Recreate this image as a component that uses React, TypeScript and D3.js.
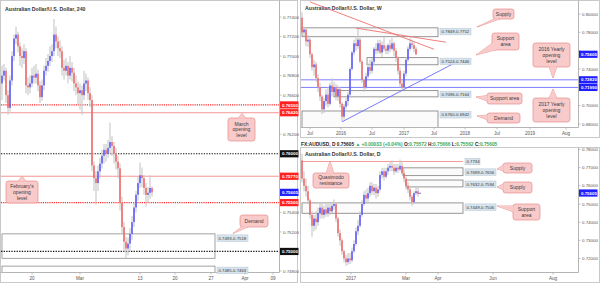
import React from "react";
import * as d3 from "d3";

// ---------------- 4H panel (left) ----------------
const h4FirstOpen = 0.7672;
const h4Close = [0.7680,0.7685,0.7660,0.7647,0.7675,0.7700,0.7718,0.7722,0.7710,0.7700,0.7698,0.7705,0.7670,0.7668,0.7672,0.7680,0.7678,0.7682,0.7670,0.7658,0.7670,0.7685,0.7690,0.7695,0.7700,0.7705,0.7722,0.7715,0.7708,0.7705,0.7688,0.7685,0.7690,0.7680,0.7688,0.7683,0.7672,0.7668,0.7662,0.7665,0.7660,0.7672,0.7675,0.7662,0.7655,0.7588,0.7575,0.7570,0.7582,0.7590,0.7598,0.7604,0.7600,0.7606,0.7612,0.7608,0.7600,0.7592,0.7585,0.7550,0.7525,0.7510,0.7503,0.7508,0.7518,0.7530,0.7545,0.7558,0.7570,0.7578,0.7575,0.7565,0.7558,0.7560,0.7565,0.75605];
const h4High = [0.7690,0.7692,0.7688,0.7665,0.7680,0.7705,0.7722,0.7730,0.7725,0.7714,0.7708,0.7712,0.7708,0.7678,0.7680,0.7688,0.7690,0.7692,0.7686,0.7674,0.7676,0.7690,0.7698,0.7702,0.7710,0.7712,0.7738,0.7730,0.7720,0.7716,0.7710,0.7696,0.7698,0.7694,0.7700,0.7694,0.7688,0.7680,0.7674,0.7672,0.7670,0.7685,0.7682,0.7678,0.7668,0.7660,0.7592,0.7582,0.7588,0.7596,0.7604,0.7610,0.7610,0.7614,0.7632,0.7618,0.7612,0.7606,0.7598,0.7590,0.7556,0.7530,0.7515,0.7514,0.7524,0.7536,0.7550,0.7562,0.7576,0.7591,0.7586,0.7578,0.7570,0.7566,0.7578,0.75666];
const h4Low = [0.7655,0.7675,0.7652,0.7640,0.7643,0.7670,0.7695,0.7712,0.7704,0.7690,0.7688,0.7692,0.7662,0.7660,0.7662,0.7668,0.7672,0.7672,0.7664,0.7652,0.7654,0.7665,0.7680,0.7684,0.7690,0.7694,0.7700,0.7708,0.7700,0.7698,0.7680,0.7676,0.7680,0.7672,0.7676,0.7674,0.7664,0.7660,0.7650,0.7645,0.7640,0.7655,0.7664,0.7655,0.7648,0.7582,0.7562,0.7548,0.7562,0.7575,0.7585,0.7590,0.7592,0.7596,0.7600,0.7598,0.7590,0.7584,0.7575,0.7542,0.7518,0.7500,0.7493,0.7496,0.7500,0.7512,0.7525,0.7540,0.7552,0.7565,0.7566,0.7558,0.7546,0.7550,0.7554,0.75562];
const h4XLabels = ["20", "Mar", "13", "20", "27", "Apr", "09"];
const h4XPos = [15, 39, 69, 86.5, 104.5, 121.5, 135.5];
const h4YTicks = [0.774, 0.772, 0.770, 0.768, 0.766, 0.764, 0.762, 0.760, 0.758, 0.756, 0.754, 0.752, 0.750, 0.748];
const h4LevelPrices = [0.765, 0.7642, 0.760, 0.7577, 0.755, 0.750];
const h4LevelKinds = ["reddot", "redline", "blackdot", "redline", "reddot", "blackdot"];
const h4Zones = [[0.7518, 0.7493], [0.7485, 0.7463]];
const h4ZoneLabels = ["0.7493-0.7518", "0.7485-0.7463"];
const h4ZoneEnd = 106.5;
const lastPrice = 0.75605;

// ---------------- Weekly panel (top right) ----------------
const wOpen = [0.7960,0.7800,0.7830,0.7700,0.7720,0.7560,0.7420,0.7450,0.7300,0.7200,0.7100,0.6960,0.7050,0.7120,0.7020,0.7220,0.7150,0.7200,0.7100,0.7180,0.7020,0.6880,0.6990,0.7050,0.7120,0.7400,0.7580,0.7680,0.7650,0.7720,0.7480,0.7280,0.7200,0.7320,0.7420,0.7380,0.7480,0.7620,0.7600,0.7680,0.7580,0.7660,0.7620,0.7600,0.7660,0.7620,0.7680,0.7600,0.7520,0.7380,0.7240,0.7200,0.7350,0.7500,0.7620,0.7680,0.7660,0.7620];
const wClose = [0.7800,0.7830,0.7700,0.7720,0.7560,0.7420,0.7450,0.7300,0.7200,0.7100,0.6960,0.7050,0.7120,0.7020,0.7220,0.7150,0.7200,0.7100,0.7180,0.7020,0.6880,0.6990,0.7050,0.7120,0.7400,0.7580,0.7680,0.7650,0.7720,0.7480,0.7280,0.7200,0.7320,0.7420,0.7380,0.7480,0.7620,0.7600,0.7680,0.7580,0.7660,0.7620,0.7600,0.7660,0.7620,0.7680,0.7600,0.7520,0.7380,0.7240,0.7200,0.7350,0.7500,0.7620,0.7680,0.7660,0.7620,0.75605];
const wHigh = [0.8020,0.7860,0.7850,0.7770,0.7740,0.7580,0.7500,0.7480,0.7340,0.7250,0.7120,0.7080,0.7180,0.7200,0.7250,0.7300,0.7260,0.7240,0.7220,0.7200,0.7040,0.7020,0.7080,0.7150,0.7420,0.7600,0.7720,0.7760,0.7840,0.7740,0.7500,0.7300,0.7360,0.7460,0.7500,0.7520,0.7640,0.7680,0.7720,0.7720,0.7700,0.7750,0.7660,0.7680,0.7720,0.7740,0.7700,0.7630,0.7540,0.7420,0.7280,0.7380,0.7530,0.7650,0.7740,0.7720,0.7700,0.7640];
const wLow = [0.7760,0.7760,0.7650,0.7640,0.7520,0.7380,0.7330,0.7260,0.7150,0.7050,0.6910,0.6920,0.7000,0.6980,0.7000,0.7100,0.7120,0.7060,0.7050,0.6980,0.6830,0.6850,0.6960,0.7000,0.7100,0.7380,0.7550,0.7600,0.7620,0.7460,0.7250,0.7150,0.7180,0.7300,0.7340,0.7350,0.7440,0.7560,0.7570,0.7560,0.7530,0.7590,0.7560,0.7560,0.7580,0.7600,0.7540,0.7480,0.7340,0.7200,0.7160,0.7180,0.7320,0.7480,0.7600,0.7620,0.7580,0.7550];
const wXLabels = ["Jul", "2016", "Jul", "2017", "Jul", "2018", "Jul", "2019", "Aug"];
const wXPos = [4, 19.5, 35, 51, 66, 81.5, 97.5, 114, 132];
const wYTicks = [0.80, 0.78, 0.76, 0.74, 0.72, 0.70, 0.68];
const wYearly = [0.7282, 0.7199];
const wZones = [[0.7849, 0.7752, 0], [0.7524, 0.7446, 32.5], [0.7164, 0.7096, 16], [0.6942, 0.6760, 0]];
const wZoneLabels = ["0.7849-0.7752", "0.7524-0.7446", "0.7096-0.7164", "0.6760-0.6942"];
const wZoneEnd = 68;
const wRedTrend1 = [[4, 0.8132], [66, 0.7615]];
const wRedTrend2 = [[27, 0.7846], [72, 0.7692]];
const wBlueTrend = [[20, 0.6824], [76, 0.7462]];

// ---------------- Daily panel (bottom right) ----------------
const dOpen = [0.7740,0.7640,0.7600,0.7570,0.7520,0.7440,0.7380,0.7420,0.7400,0.7450,0.7480,0.7440,0.7470,0.7450,0.7480,0.7460,0.7490,0.7500,0.7420,0.7340,0.7300,0.7240,0.7200,0.7180,0.7200,0.7190,0.7240,0.7280,0.7350,0.7380,0.7440,0.7500,0.7550,0.7530,0.7560,0.7600,0.7570,0.7590,0.7560,0.7580,0.7660,0.7680,0.7650,0.7680,0.7700,0.7710,0.7700,0.7680,0.7700,0.7690,0.7710,0.7670,0.7640,0.7600,0.7580,0.7540,0.7510,0.7560,0.7570,0.75572];
const dClose = [0.7640,0.7600,0.7570,0.7520,0.7440,0.7380,0.7420,0.7400,0.7450,0.7480,0.7440,0.7470,0.7450,0.7480,0.7460,0.7490,0.7500,0.7420,0.7340,0.7300,0.7240,0.7200,0.7180,0.7200,0.7190,0.7240,0.7280,0.7350,0.7380,0.7440,0.7500,0.7550,0.7530,0.7560,0.7600,0.7570,0.7590,0.7560,0.7580,0.7660,0.7680,0.7650,0.7680,0.7700,0.7710,0.7700,0.7680,0.7700,0.7690,0.7710,0.7670,0.7640,0.7600,0.7580,0.7540,0.7510,0.7560,0.7570,0.7555,0.75605];
const dHigh = [0.7778,0.7680,0.7640,0.7600,0.7530,0.7460,0.7440,0.7460,0.7480,0.7500,0.7500,0.7490,0.7500,0.7500,0.7500,0.7510,0.7525,0.7510,0.7430,0.7360,0.7310,0.7250,0.7220,0.7230,0.7230,0.7260,0.7300,0.7370,0.7410,0.7460,0.7520,0.7570,0.7580,0.7590,0.7620,0.7620,0.7610,0.7610,0.7600,0.7680,0.7700,0.7700,0.7700,0.7720,0.7730,0.7740,0.7720,0.7720,0.7720,0.7745,0.7730,0.7690,0.7650,0.7620,0.7600,0.7550,0.7570,0.7590,0.7590,0.75666];
const dLow = [0.7620,0.7570,0.7540,0.7500,0.7420,0.7320,0.7350,0.7360,0.7380,0.7420,0.7420,0.7420,0.7430,0.7430,0.7440,0.7450,0.7470,0.7400,0.7320,0.7270,0.7220,0.7180,0.7160,0.7165,0.7170,0.7180,0.7230,0.7270,0.7330,0.7370,0.7430,0.7490,0.7500,0.7510,0.7540,0.7550,0.7550,0.7530,0.7540,0.7570,0.7640,0.7630,0.7640,0.7660,0.7680,0.7680,0.7660,0.7670,0.7670,0.7680,0.7660,0.7620,0.7580,0.7560,0.7520,0.7490,0.7500,0.7550,0.7540,0.75562];
const dXLabels = ["2017", "Mar", "Apr", "Jun", "Aug"];
const dXPos = [24.5, 52, 68, 95.5, 125.5];
const dYTicks = [0.78, 0.77, 0.76, 0.75, 0.74, 0.73, 0.72];
const dQM = 0.7734;
const dZones = [[0.7699, 0.7656, 50.5], [0.7632, 0.7594, 52], [0.7506, 0.7449, 0]];
const dZoneLabels = ["0.7699-0.7656", "0.7632-0.7594", "0.7449-0.7506"];
const dZoneEnd = 80.5;

const FONT = "'Liberation Sans', Arial, sans-serif";
const UP = "#4b4bff";
const DOWN = "#f25c5c";
const WICK = "#c6c6c6";
const fmt = d3.format(".5f");

type Sc = d3.ScaleLinear<number, number>;

function Candles({ o, h, l, c, x, y, bw }: { o: number[]; h: number[]; l: number[]; c: number[]; x: Sc; y: Sc; bw: number }) {
  return (
    <g>
      {c.map((_, i) => (
        <line key={"w" + i} x1={x(i)} x2={x(i)} y1={y(h[i])} y2={y(l[i])} stroke={WICK} strokeWidth={1.1} />
      ))}
      {c.map((cv, i) => {
        const up = cv >= o[i];
        const top = y(Math.max(o[i], cv));
        const hh = Math.max(0.8, Math.abs(y(o[i]) - y(cv)));
        return <rect key={"b" + i} x={x(i) - bw / 2} y={top} width={bw} height={hh} fill={up ? UP : DOWN} />;
      })}
    </g>
  );
}

function Callout({ x, y, w, h, lines, tail, fs = 5 }: { x: number; y: number; w: number; h: number; lines: string[]; tail: number[][]; fs?: number }) {
  const pts = tail.map((p) => p.join(",")).join(" ");
  const lh = fs * 1.15;
  const startY = y + h / 2 - ((lines.length - 1) * lh) / 2 + fs * 0.35;
  return (
    <g>
      <polygon points={pts} fill="#f9caca" stroke="#e58b8b" strokeWidth={0.7} />
      <rect x={x} y={y} width={w} height={h} rx={2.5} fill="#f9caca" stroke="#e58b8b" strokeWidth={0.7} />
      <polygon points={pts} fill="#f9caca" stroke="none" />
      {lines.map((t, i) => (
        <text key={i} x={x + w / 2} y={startY + i * lh} fontSize={fs} fill="#3a3a3a" textAnchor="middle" fontFamily={FONT}>
          {t}
        </text>
      ))}
    </g>
  );
}

function ZoneLabel({ x, y, text }: { x: number; y: number; text: string }) {
  return (
    <g>
      <rect x={x} y={y} width={31} height={6.5} fill="#d8e4ed" stroke="#b3c4d0" strokeWidth={0.5} />
      <text x={x + 1.5} y={y + 5} fontSize={4.3} fill="#333" fontFamily={FONT}>
        {text}
      </text>
    </g>
  );
}

function AxisTag({ x, y, text, bg }: { x: number; y: number; text: string; bg: string }) {
  return (
    <g>
      <rect x={x} y={y - 3.6} width={18.5} height={7.2} fill={bg} />
      <text x={x + 2} y={y + 1.6} fontSize={4.4} fontWeight="bold" fill="#fff" fontFamily={FONT}>
        {text}
      </text>
    </g>
  );
}

function YTicks({ ticks, y, x, tags }: { ticks: number[]; y: Sc; x: number; tags: number[] }) {
  const shown = ticks.filter((t) => tags.every((p) => Math.abs(y(t) - y(p)) > 6.5));
  return (
    <g>
      {ticks.map((t) => (
        <line key={"m" + t} x1={x} x2={x + 2} y1={y(t)} y2={y(t)} stroke="#999" strokeWidth={0.6} />
      ))}
      {shown.map((t) => (
        <text key={t} x={x + 3.5} y={y(t) + 1.6} fontSize={4.4} fill="#555" fontFamily={FONT}>
          {fmt(t)}
        </text>
      ))}
    </g>
  );
}

function XTicks({ labels, pos, x, y }: { labels: string[]; pos: number[]; x: Sc; y: number }) {
  return (
    <g>
      {labels.map((t, i) => (
        <g key={i}>
          <line x1={x(pos[i])} x2={x(pos[i])} y1={y} y2={y + 2} stroke="#999" strokeWidth={0.6} />
          <text x={x(pos[i])} y={y + 7} fontSize={4.6} fill="#555" textAnchor="middle" fontFamily={FONT}>
            {t}
          </text>
        </g>
      ))}
    </g>
  );
}

export default function App() {
  const lx = d3.scaleLinear().domain([0, 138.5]).range([2, 279]);
  const ly = d3.scaleLinear().domain([0.748, 0.774]).range([271, 17]);
  const h4Open = [h4FirstOpen, ...h4Close.slice(0, -1)];
  const wx = d3.scaleLinear().domain([0, 138]).range([302, 578]);
  const wy = d3.scaleLinear().domain([0.68, 0.8]).range([124, 14]);
  const dx = d3.scaleLinear().domain([0, 138]).range([302, 578]);
  const dy = d3.scaleLinear().domain([0.72, 0.78]).range([258.5, 149.5]);

  const levelStyle = (k: string) => {
    if (k === "reddot") return { stroke: "#ff2a2a", strokeWidth: 1.1, strokeDasharray: "1.2,1" };
    if (k === "redline") return { stroke: "#f28a8a", strokeWidth: 0.9, strokeDasharray: undefined };
    return { stroke: "#111", strokeWidth: 1.2, strokeDasharray: "1.3,1.3" };
  };
  const levelTagBg = (k: string) => (k === "blackdot" ? "#111" : "#ff2020");

  const line = d3.line<number[]>();

  return (
    <svg width={600} height={283} style={{ position: "fixed", left: 0, top: 0 }} fontFamily={FONT}>
      <defs>
        <clipPath id="clipL"><rect x={1} y={1} width={278} height={271} /></clipPath>
        <clipPath id="clipW"><rect x={301} y={1} width={277} height={126} /></clipPath>
        <clipPath id="clipD"><rect x={301} y={148} width={277} height={124} /></clipPath>
      </defs>
      <rect x={0} y={0} width={600} height={283} fill="#fff" />

      {/* ===== Left 4H panel ===== */}
      <rect x={0.5} y={0.5} width={297} height={282} fill="#fff" stroke="#c9c9c9" />
      <line x1={279.5} x2={279.5} y1={0.5} y2={272.5} stroke="#b5b5b5" />
      <line x1={0.5} x2={279.5} y1={272.5} y2={272.5} stroke="#b5b5b5" />
      <text x={5} y={11} fontSize={5.2} fill="#333" fontWeight="bold">Australian Dollar/U.S. Dollar, 240</text>
      <g clipPath="url(#clipL)">
        {h4Zones.map((z, i) => (
          <rect key={i} x={lx(0)} y={ly(z[0])} width={lx(h4ZoneEnd) - lx(0)} height={ly(z[1]) - ly(z[0])} fill="none" stroke="#8a8a8a" strokeWidth={0.8} />
        ))}
        {h4LevelPrices.map((p, i) => {
          const s = levelStyle(h4LevelKinds[i]);
          return <line key={i} x1={1} x2={279} y1={ly(p)} y2={ly(p)} {...s} />;
        })}
        <Candles o={h4Open} h={h4High} l={h4Low} c={h4Close} x={lx} y={ly} bw={1.4} />
      </g>
      {h4Zones.map((z, i) => (
        <ZoneLabel key={i} x={lx(h4ZoneEnd) + 2} y={ly(z[0]) + 1} text={h4ZoneLabels[i]} />
      ))}
      <YTicks ticks={h4YTicks} y={ly} x={279.5} tags={[...h4LevelPrices, lastPrice]} />
      {h4LevelPrices.map((p, i) => (
        <AxisTag key={i} x={280} y={ly(p)} text={fmt(p)} bg={levelTagBg(h4LevelKinds[i])} />
      ))}
      <AxisTag x={280} y={ly(lastPrice)} text={fmt(lastPrice)} bg="#1e1eff" />
      <XTicks labels={h4XLabels} pos={h4XPos} x={lx} y={272.5} />
      <Callout x={228} y={118} w={27} h={23} lines={["March", "opening", "level"]} tail={[[238, 118.5], [242, 113.5], [246, 118.5]]} />
      <Callout x={6} y={181} w={32} h={22} lines={["February's", "opening", "level"]} tail={[[18, 181.5], [22, 176], [26, 181.5]]} />
      <Callout x={240} y={215} w={28} h={12} lines={["Demand"]} tail={[[242, 226.5], [233, 233.5], [249, 226.5]]} />

      {/* ===== Weekly panel ===== */}
      <rect x={300.5} y={0.5} width={299} height={137} fill="#fff" stroke="#c9c9c9" />
      <line x1={578.5} x2={578.5} y1={0.5} y2={127.5} stroke="#b5b5b5" />
      <line x1={300.5} x2={578.5} y1={127.5} y2={127.5} stroke="#b5b5b5" />
      <text x={305} y={10} fontSize={5.2} fill="#333" fontWeight="bold">Australian Dollar/U.S. Dollar, W</text>
      <g clipPath="url(#clipW)">
        {wZones.map((z, i) => (
          <rect key={i} x={wx(z[2])} y={wy(z[0])} width={wx(wZoneEnd) - wx(z[2])} height={wy(z[1]) - wy(z[0])} fill="#fbfbfb" stroke="#7d7d7d" strokeWidth={0.8} />
        ))}
        {wYearly.map((p, i) => (
          <line key={i} x1={301} x2={578} y1={wy(p)} y2={wy(p)} stroke="#7070ff" strokeWidth={0.9} />
        ))}
        <Candles o={wOpen} h={wHigh} l={wLow} c={wClose} x={wx} y={wy} bw={1.4} />
        {[wRedTrend1, wRedTrend2].map((t, i) => (
          <path key={i} d={line(t.map((p) => [wx(p[0]), wy(p[1])])) || ""} stroke="#f07070" strokeWidth={0.9} fill="none" />
        ))}
        <path d={line(wBlueTrend.map((p) => [wx(p[0]), wy(p[1])])) || ""} stroke="#6a6aff" strokeWidth={0.9} fill="none" />
      </g>
      {wZones.map((z, i) => (
        <ZoneLabel key={i} x={wx(wZoneEnd) + 2} y={wy(z[0]) + 0.5} text={wZoneLabels[i]} />
      ))}
      <YTicks ticks={wYTicks} y={wy} x={578.5} tags={[...wYearly, lastPrice]} />
      <AxisTag x={579} y={wy(lastPrice)} text={fmt(lastPrice)} bg="#1e1eff" />
      {wYearly.map((p, i) => (
        <AxisTag key={i} x={579} y={wy(p)} text={fmt(p)} bg="#1e1eff" />
      ))}
      <XTicks labels={wXLabels} pos={wXPos} x={wx} y={127.5} />
      <Callout x={493} y={9} w={21} h={10} lines={["Supply"]} tail={[[495, 18.5], [477, 27], [501, 18.5]]} />
      <Callout x={492} y={33} w={27} h={17} lines={["Support", "area"]} tail={[[492.5, 43], [476, 55], [497, 49.5]]} />
      <Callout x={533} y={43} w={37} h={24} lines={["2016 Yearly", "opening", "level"]} tail={[[549, 66.5], [553, 78], [557, 66.5]]} />
      <Callout x={533} y={98} w={37} h={24} lines={["2017 Yearly", "opening", "level"]} tail={[[549, 98.5], [553, 89], [557, 98.5]]} />
      <Callout x={487} y={93} w={35} h={11} lines={["Support area"]} tail={[[487.5, 95.5], [476, 97], [487.5, 101]]} />
      <Callout x={487} y={113} w={33} h={10} lines={["Demand"]} tail={[[487.5, 115], [477, 116], [487.5, 120]]} />

      {/* ===== Daily panel ===== */}
      <text x={301} y={145.5} fontSize={4.8} fontWeight="bold" fill="#222">
        <tspan>FX:AUDUSD, D  </tspan>
        <tspan>0.75605 </tspan>
        <tspan fill="#3aa757">▲ +0.00033 (+0.04%)  </tspan>
        <tspan>O:</tspan><tspan fill="#3aa757">0.75572 </tspan>
        <tspan>H:</tspan><tspan fill="#3aa757">0.75666 </tspan>
        <tspan>L:</tspan><tspan fill="#3aa757">0.75562 </tspan>
        <tspan>C:</tspan><tspan fill="#3aa757">0.75605</tspan>
      </text>
      <rect x={300.5} y={147.5} width={299} height={135} fill="#fff" stroke="#c9c9c9" />
      <line x1={578.5} x2={578.5} y1={147.5} y2={272.5} stroke="#b5b5b5" />
      <line x1={300.5} x2={578.5} y1={272.5} y2={272.5} stroke="#b5b5b5" />
      <text x={305} y={156} fontSize={5.2} fill="#333" fontWeight="bold">Australian Dollar/U.S. Dollar, D</text>
      <g clipPath="url(#clipD)">
        {dZones.map((z, i) => (
          <rect key={i} x={dx(z[2])} y={dy(z[0])} width={dx(dZoneEnd) - dx(z[2])} height={dy(z[1]) - dy(z[0])} fill="#fbfbfb" stroke="#7d7d7d" strokeWidth={0.8} />
        ))}
        <line x1={301} x2={dx(dZoneEnd)} y1={dy(dQM)} y2={dy(dQM)} stroke="#f49a9a" strokeWidth={1} />
        <Candles o={dOpen} h={dHigh} l={dLow} c={dClose} x={dx} y={dy} bw={1.4} />
      </g>
      <g>
        <rect x={dx(dZoneEnd) + 2} y={dy(dQM) - 3.2} width={15} height={6.5} fill="#d8e4ed" stroke="#b3c4d0" strokeWidth={0.5} />
        <text x={dx(dZoneEnd) + 3.5} y={dy(dQM) + 1.6} fontSize={4.3} fill="#333">{String(dQM)}</text>
      </g>
      {dZones.map((z, i) => (
        <ZoneLabel key={i} x={dx(dZoneEnd) + 2} y={dy(z[0]) + 1} text={dZoneLabels[i]} />
      ))}
      <YTicks ticks={dYTicks} y={dy} x={578.5} tags={[lastPrice]} />
      <AxisTag x={579} y={dy(lastPrice)} text={fmt(lastPrice)} bg="#1e1eff" />
      <XTicks labels={dXLabels} pos={dXPos} x={dx} y={272.5} />
      <Callout x={313} y={173} w={36} h={15} lines={["Quasimodo", "resistance"]} tail={[[326, 173.5], [330, 161], [334, 173.5]]} />
      <Callout x={503} y={163} w={29} h={10} lines={["Supply"]} tail={[[503.5, 165], [497, 169], [503.5, 171]]} />
      <Callout x={503} y={182} w={29} h={11} lines={["Supply"]} tail={[[503.5, 184], [497, 187], [503.5, 190]]} />
      <Callout x={513} y={204} w={27} h={16} lines={["Support", "area"]} tail={[[513.5, 206], [497, 206], [513.5, 212]]} />
    </svg>
  );
}
